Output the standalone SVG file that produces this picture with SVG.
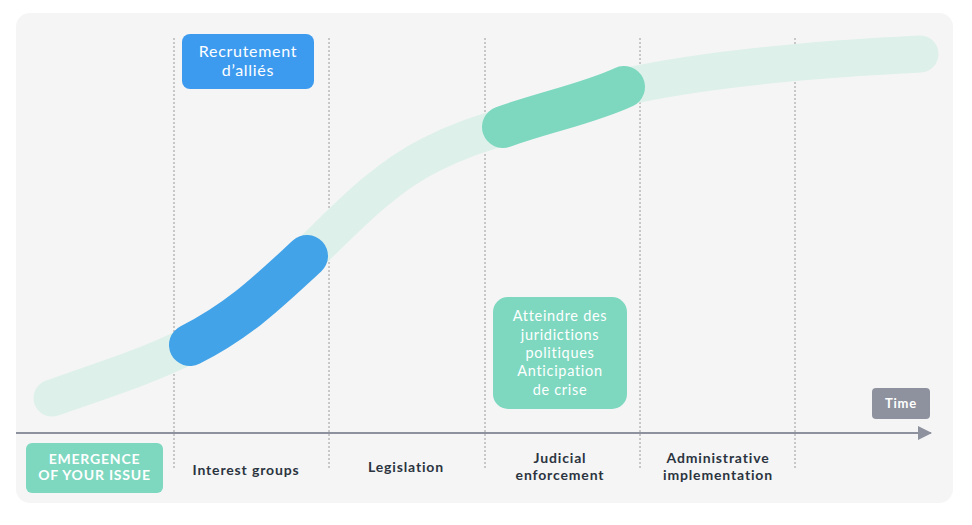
<svg xmlns="http://www.w3.org/2000/svg" width="972" height="525" viewBox="0 0 972 525">
<defs>
<style>
.div{stroke:#9a9a9a;stroke-width:1;stroke-dasharray:2 2;fill:none}
.lbl{font-family:Lato,"Open Sans",sans-serif;font-weight:700;font-size:14px;fill:#2B3440;text-anchor:middle;letter-spacing:0.85px}
.wb{font-family:Lato,"Open Sans",sans-serif;font-weight:700;fill:#fff;text-anchor:middle;letter-spacing:0.8px}
.wl{font-family:Lato,"Open Sans",sans-serif;font-weight:400;fill:#fff;text-anchor:middle;letter-spacing:0.7px}
.seg{fill:none;stroke-linecap:round;stroke-linejoin:round}
</style>
<marker id="arr" markerWidth="14" markerHeight="14" refX="13" refY="7" orient="auto" markerUnits="userSpaceOnUse">
<path d="M0,0 L14,7 L0,14 Z" fill="#8E929E"/>
</marker>
</defs>
<rect x="0" y="0" width="972" height="525" fill="#ffffff"/>
<rect x="16" y="13" width="937" height="490" rx="14" fill="#F5F5F5"/>
<g id="dividers">
<line class="div" x1="174" y1="38" x2="174" y2="469"/>
<line class="div" x1="329" y1="38" x2="329" y2="469"/>
<line class="div" x1="485" y1="38" x2="485" y2="469"/>
<line class="div" x1="640" y1="38" x2="640" y2="469"/>
<line class="div" x1="795" y1="38" x2="795" y2="469"/>
</g>
<g id="connectors">
<path id="curve" class="seg" stroke="#DDF0EA" stroke-width="37" d="M52,398 C110,378 150,365 190,345 C240,320 270,290 307,256 C340,225 380,180 430,155 C460,140 480,134 503,127 C545,112 590,103 624,87 C700,70 800,60 920,54"/>
<path id="seg-blue" class="seg" stroke="#42A3E8" stroke-width="42" d="M190,345 C240,320 270,290 307,256"/>
<path id="seg-green" class="seg" stroke="#7DD8BF" stroke-width="42" d="M503,127 C545,112 590,103 624,87"/>
<line id="axis" x1="16" y1="433" x2="931" y2="433" stroke="#8E929E" stroke-width="2" marker-end="url(#arr)"/>
</g>
<g id="recrutement">
<rect x="182" y="34" width="132" height="55" rx="8" fill="#3D9BEF"/>
<text class="wl" font-size="16" x="248" y="57">Recrutement</text>
<text class="wl" font-size="16" x="248" y="76">d’alliés</text>
</g>
<g id="atteindre">
<rect x="493" y="297" width="134" height="112" rx="15" fill="#7DD8BF"/>
<text class="wl" font-size="14.5" x="560" y="321">Atteindre des</text>
<text class="wl" font-size="14.5" x="560" y="339.5">juridictions</text>
<text class="wl" font-size="14.5" x="560" y="358">politiques</text>
<text class="wl" font-size="14.5" x="560" y="376">Anticipation</text>
<text class="wl" font-size="14.5" x="560" y="394.5">de crise</text>
</g>
<g id="time">
<rect x="872" y="388" width="58" height="31" rx="4" fill="#8E929E"/>
<text class="wb" font-size="13" x="901" y="408">Time</text>
</g>
<g id="emergence">
<rect x="26" y="443" width="137" height="50" rx="6" fill="#7DD8BF"/>
<text class="wb" font-size="14" x="94.5" y="464">EMERGENCE</text>
<text class="wb" font-size="14" x="94.5" y="480">OF YOUR ISSUE</text>
</g>
<g id="interest-groups"><text class="lbl" x="246" y="475">Interest groups</text></g>
<g id="legislation"><text class="lbl" x="406" y="472">Legislation</text></g>
<g id="judicial"><text class="lbl" x="560" y="463">Judicial</text><text class="lbl" x="560" y="480">enforcement</text></g>
<g id="administrative"><text class="lbl" x="718" y="463">Administrative</text><text class="lbl" x="718" y="480">implementation</text></g>
</svg>
